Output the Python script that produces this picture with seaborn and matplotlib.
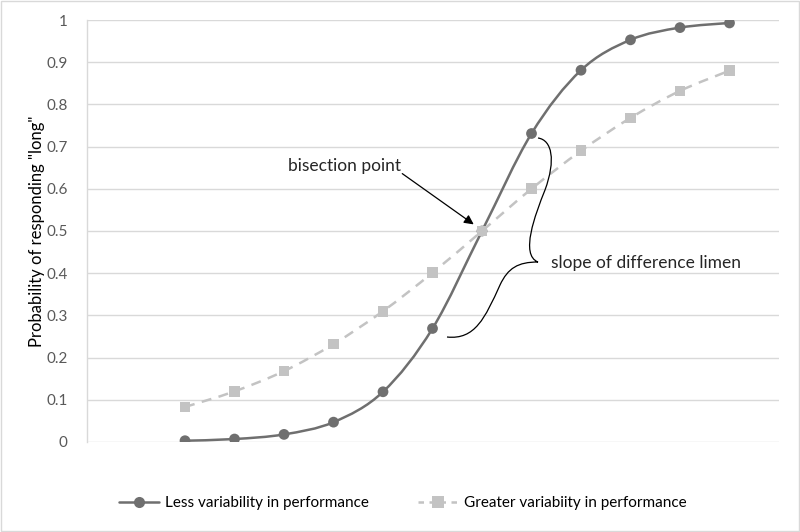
import numpy as np
import pandas as pd
import matplotlib
matplotlib.use("Agg")
import matplotlib.pyplot as plt
from matplotlib.path import Path
from matplotlib.patches import PathPatch
from matplotlib.lines import Line2D
import seaborn as sns

# --- data ---
duration = list(range(1, 13))
less_var = [0.003, 0.007, 0.018, 0.047, 0.119, 0.269, 0.5, 0.731, 0.881, 0.953, 0.982, 0.993]
greater_var = [0.083, 0.12, 0.168, 0.232, 0.31, 0.401, 0.5, 0.6, 0.69, 0.768, 0.832, 0.88]
y_ticks = [0, 0.1, 0.2, 0.3, 0.4, 0.5, 0.6, 0.7, 0.8, 0.9, 1]
y_tick_labels = ["0", "0.1", "0.2", "0.3", "0.4", "0.5", "0.6", "0.7", "0.8", "0.9", "1"]
label_less = "Less variability in performance"
label_greater = "Greater variabiity in performance"

df = pd.DataFrame({
    "duration": duration * 2,
    "p": less_var + greater_var,
    "series": [label_less] * 12 + [label_greater] * 12,
})

sns.set_theme(style="white")
plt.rcParams["font.family"] = ["Lato", "DejaVu Sans"]

DARK = "#6f6f6f"
LIGHT = "#c3c3c3"
TXT = "#595959"


def smooth_path(xs, ys):
    # Excel-like smoothed line: Catmull-Rom converted to cubic bezier
    xs = np.asarray(xs, float)
    ys = np.asarray(ys, float)
    px = np.concatenate([[xs[0]], xs, [xs[-1]]])
    py = np.concatenate([[ys[0]], ys, [ys[-1]]])
    verts = [(xs[0], ys[0])]
    codes = [Path.MOVETO]
    for i in range(1, len(px) - 2):
        c1 = (px[i] + (px[i + 1] - px[i - 1]) / 6, py[i] + (py[i + 1] - py[i - 1]) / 6)
        c2 = (px[i + 1] - (px[i + 2] - px[i]) / 6, py[i + 1] - (py[i + 2] - py[i]) / 6)
        verts += [c1, c2, (px[i + 1], py[i + 1])]
        codes += [Path.CURVE4] * 3
    return Path(verts, codes)


fig = plt.figure(figsize=(8, 5.32), dpi=100)
ax = fig.add_axes([0.10875, 0.1692, 0.865, 0.7932])

ax.set_xlim(-0.98, 13.0)
ax.set_ylim(0, 1)
ax.set_yticks(y_ticks)
ax.set_yticklabels(y_tick_labels, color=TXT, fontsize=11)
ax.set_xticks([])
ax.yaxis.grid(True, color="#d9d9d9", linewidth=1)
ax.set_axisbelow(True)
for s in ["top", "right", "bottom"]:
    ax.spines[s].set_visible(False)
ax.spines["left"].set_color("#d9d9d9")
ax.spines["left"].set_linewidth(1)
ax.tick_params(axis="y", length=0, pad=14)

# smoothed lines
ax.add_patch(PathPatch(smooth_path(duration, greater_var), facecolor="none",
                       edgecolor=LIGHT, linewidth=1.8, linestyle=(0, (4, 3)), zorder=2))
ax.add_patch(PathPatch(smooth_path(duration, less_var), facecolor="none",
                       edgecolor=DARK, linewidth=1.8, zorder=3))

# markers
sns.scatterplot(data=df, x="duration", y="p", hue="series", style="series",
                palette={label_less: DARK, label_greater: LIGHT},
                markers={label_less: "o", label_greater: "s"},
                s=60, linewidth=0, legend=False, ax=ax, zorder=4)

ax.set_xlabel("Duration of stimulus", fontsize=11.5, color="black", labelpad=5)
ax.set_ylabel('Probability of responding "long"', fontsize=12, color="black")
ax.yaxis.set_label_coords(-0.06, 0.5)

# annotations
fig.text(345 / 800, 1 - 166 / 532, "bisection point", ha="center", va="center", fontsize=12.5)
ax.annotate("", xy=(476 / 800, 1 - 226 / 532), xycoords="figure fraction",
            xytext=(400 / 800, 1 - 172 / 532), textcoords="figure fraction",
            arrowprops=dict(arrowstyle="-|>", color="black", lw=0.9, mutation_scale=14))
fig.text(551 / 800, 1 - 263 / 532, "slope of difference limen", ha="left", va="center", fontsize=12.5)

brace_px = [(538, 138), (552, 140), (556, 160), (545, 190),
            (535, 215), (520, 255), (538, 262),
            (518, 262), (508, 268), (500, 285),
            (485, 318), (475, 340), (447, 337)]
brace = Path([(x / 800, 1 - y / 532) for x, y in brace_px],
             [Path.MOVETO] + [Path.CURVE4] * 12)
fig.add_artist(PathPatch(brace, transform=fig.transFigure, facecolor="none",
                         edgecolor="black", linewidth=0.9))

# legend
handles = [
    Line2D([], [], color=DARK, marker="o", markersize=8, linewidth=1.8, markeredgewidth=0),
    Line2D([], [], color=LIGHT, marker="s", markersize=8, linewidth=1.8,
           linestyle=(0, (2.2, 2.2)), markeredgewidth=0),
]
fig.legend(handles, [label_less, label_greater], loc="center", ncol=2,
           bbox_to_anchor=(403 / 800, 1 - 503 / 532), frameon=False, fontsize=11,
           handlelength=2.6, handletextpad=0.4, columnspacing=3.2, labelcolor="black")

fig.patches.append(plt.Rectangle((0.001, 0.001), 0.998, 0.998, transform=fig.transFigure,
                                 facecolor="none", edgecolor="#d9d9d9", linewidth=1))

fig.savefig("out.png", dpi=100, facecolor="white")
